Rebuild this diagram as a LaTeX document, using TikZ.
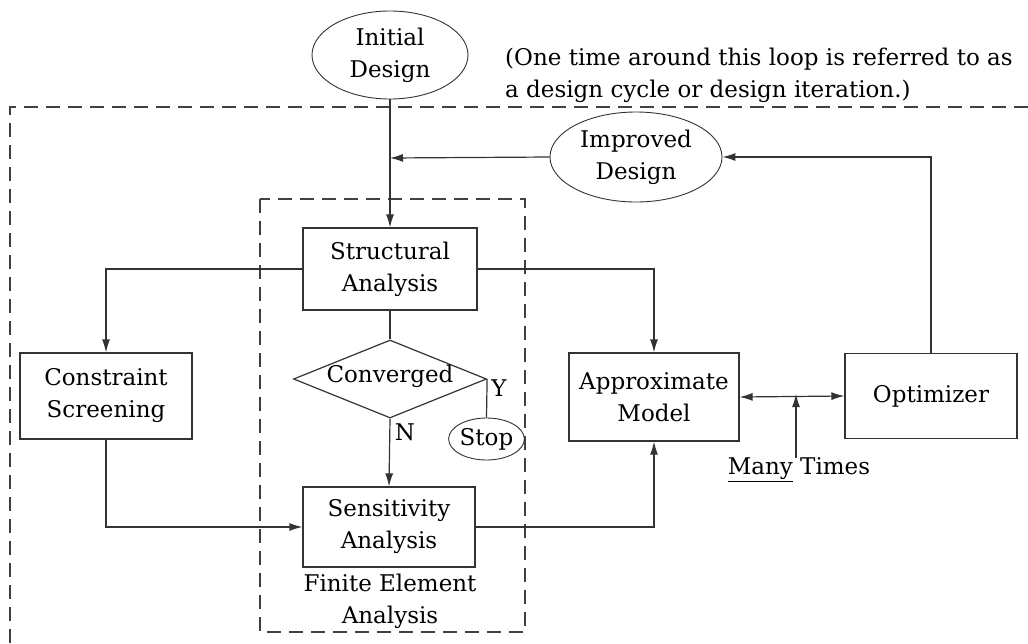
\documentclass[tikz,border=0pt]{standalone}
\usepackage{fontspec}
\setmainfont{DejaVu Serif}
\usetikzlibrary{shapes.geometric,arrows.meta}
\begin{document}
\begin{tikzpicture}[x=1pt,y=-1pt,
  every node/.style={font=\fontsize{23}{32}\selectfont, align=center, inner sep=0pt},
  line/.style={line width=1.2pt, draw=black!80},
  arr/.style={line, -{Latex[length=13pt,width=8pt]}},
  dbl/.style={line, {Latex[length=13pt,width=8pt]}-{Latex[length=13pt,width=8pt]}},
  box/.style={draw=black!80, line width=1.2pt, rectangle},
  oval/.style={draw=black!80, line width=0.9pt, ellipse},
  dsh/.style={draw=black!75, line width=1.1pt, dash pattern=on 14pt off 8pt}
]
\useasboundingbox (0,0) rectangle (1028,643);
% dashed frames
\draw[dsh] (1028,107) -- (10,107) -- (10,643);
\draw[dsh] (260,199) rectangle (525,632);
% nodes
\node[oval, minimum width=156pt, minimum height=88pt] (init) at (390,55) {Initial\\Design};
\node[align=left, anchor=west] (note) at (505,75) {(One time around this loop is referred to as\\a design cycle or design iteration.)};
\node[oval, minimum width=172pt, minimum height=90pt] (imp) at (636,157) {Improved\\Design};
\node[box, minimum width=174pt, minimum height=82pt] (struct) at (390,269) {Structural\\Analysis};
\node[box, minimum width=172pt, minimum height=86pt] (cons) at (106,396) {Constraint\\Screening};
\node[draw=black!80, line width=1.2pt, diamond, minimum width=193pt, minimum height=78pt] (conv) at (390,379) {};
\node (convt) at (390,376) {Converged};
\node[oval, minimum width=72pt, minimum height=42pt] (stop) at (486.5,439) {Stop};
\node[box, minimum width=172pt, minimum height=80pt] (sens) at (389,527) {Sensitivity\\Analysis};
\node (fea) at (390,601) {Finite Element\\Analysis};
\node[box, minimum width=170pt, minimum height=88pt] (approx) at (654,397) {Approximate\\Model};
\node[box, minimum width=172pt, minimum height=85pt] (opt) at (931,396) {Optimizer};
\node (many) at (799,470) {\underline{Many} Times};
\node (ylab) at (499,388) {Y};
\node (nlab) at (405,432) {N};
\coordinate (j1) at (390,158);
\coordinate (mc) at (796,397);
% connectors
\draw[arr] (init.south) -- (struct.north);
\draw[arr] (imp.west) -- (j1);
\draw[arr] (opt.north) |- (imp.east);
\draw[arr] (struct.west) -| (cons.north);
\draw[arr] (struct.east) -| (approx.north);
\draw[line] (struct.south) -- (conv.north);
\draw[arr] (conv.south) -- (sens.north);
\draw[line] (conv.east) -- (stop.north);
\draw[arr] (cons.south) |- (sens.west);
\draw[arr] (sens.east) -| (approx.south);
\draw[dbl] (approx.east) -- (opt.west);
\draw[arr] (many.north -| mc) -- ([yshift=3pt]mc);
\end{tikzpicture}
\end{document}
